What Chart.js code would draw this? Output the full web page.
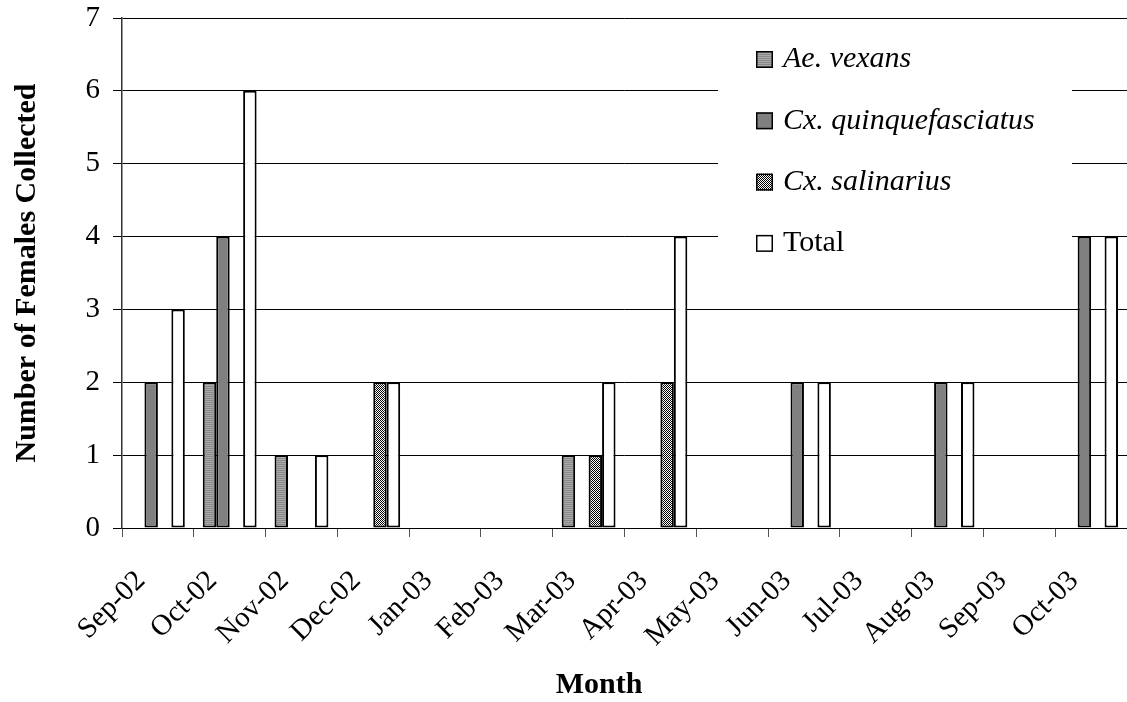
<!DOCTYPE html>
<html><head><meta charset="utf-8">
<script src="https://cdn.jsdelivr.net/npm/chart.js@4.4.0/dist/chart.umd.min.js"></script>
<style>html,body{margin:0;padding:0;background:#fff;overflow:hidden}canvas{display:block}</style>
</head><body>
<canvas id="c" width="1127" height="702"></canvas>
<script>
const categories = ['Sep-02','Oct-02','Nov-02','Dec-02','Jan-03','Feb-03','Mar-03','Apr-03','May-03','Jun-03','Jul-03','Aug-03','Sep-03','Oct-03'];
const aeVexans           = [0,2,1,0,0,0,1,0,0,0,0,0,0,0];
const cxQuinquefasciatus = [2,4,0,0,0,0,0,0,0,2,0,2,0,4];
const cxSalinarius       = [0,0,0,2,0,0,1,2,0,0,0,0,0,0];
const total              = [3,6,1,2,0,0,2,4,0,2,0,2,0,4];
const seriesNames = ['Ae. vexans','Cx. quinquefasciatus','Cx. salinarius','Total'];
const seriesItalic = [true, true, true, false];
const yTicks = [0,1,2,3,4,5,6,7];
const xTitle = 'Month';
const yTitle = 'Number of Females Collected';

const FONT = '"Liberation Serif", "Times New Roman", serif';
Chart.defaults.font.family = FONT;
Chart.defaults.color = '#000';

const mainCtx = document.getElementById('c').getContext('2d');
function makePattern(draw, w, h) {
  const c = document.createElement('canvas'); c.width = w; c.height = h;
  const g = c.getContext('2d'); draw(g);
  return mainCtx.createPattern(c, 'repeat');
}
const stripeFill = makePattern(g => {
  g.fillStyle = '#8a8a8a'; g.fillRect(0,0,1,1);
  g.fillStyle = '#a8a8a8'; g.fillRect(0,1,1,1);
}, 1, 2);
const solidFill = '#808080';
const checkerFill = makePattern(g => {
  g.fillStyle = '#fff'; g.fillRect(0,0,2,2);
  g.fillStyle = '#000'; g.fillRect(0,0,1,1); g.fillRect(1,1,1,1);
}, 2, 2);
const whiteFill = '#ffffff';
const fills = [stripeFill, solidFill, checkerFill, whiteFill];
const seriesData = [aeVexans, cxQuinquefasciatus, cxSalinarius, total];

const legendPlugin = {
  id: 'boxLegend',
  afterDatasetsDraw(chart) {
    const ctx = chart.ctx;
    ctx.save();
    ctx.fillStyle = '#fff';
    ctx.fillRect(718, 24, 354, 250);
    chart.data.datasets.forEach((ds, i) => {
      const cy = 59.5 + i * 61.3;
      ctx.fillStyle = ds.backgroundColor;
      ctx.fillRect(756, cy - 8.5, 17, 17);
      ctx.strokeStyle = '#000'; ctx.lineWidth = 1.5;
      ctx.strokeRect(756.75, cy - 7.75, 15.5, 15.5);
      ctx.font = (seriesItalic[i] ? 'italic ' : '') + '30px ' + FONT;
      ctx.fillStyle = '#000'; ctx.textBaseline = 'middle'; ctx.textAlign = 'left';
      ctx.fillText(ds.label, 783, cy);
    });
    ctx.restore();
  },
  afterDraw(chart) {
    const ctx = chart.ctx;
    ctx.save();
    ctx.font = 'bold 30px ' + FONT;
    ctx.fillStyle = '#000'; ctx.textAlign = 'center'; ctx.textBaseline = 'middle';
    ctx.fillText(xTitle, 599, 685);
    ctx.restore();
  }
};

new Chart(mainCtx, {
  type: 'bar',
  data: {
    labels: categories,
    datasets: seriesNames.map((name, i) => ({
      label: name,
      data: seriesData[i],
      backgroundColor: fills[i],
      borderColor: '#000',
      borderWidth: 2,
      borderSkipped: false,
      categoryPercentage: 0.75,
      barPercentage: 1.0
    }))
  },
  options: {
    responsive: false,
    animation: false,
    events: [],
    layout: { padding: { top: 18, left: 0, right: 0, bottom: 0 } },
    plugins: { legend: { display: false }, tooltip: { enabled: false } },
    scales: {
      x: {
        offset: true,
        grid: { offset: true, drawOnChartArea: false, drawTicks: true, tickLength: 9, color: '#555', lineWidth: 1 },
        border: { display: true, color: '#000', width: 1 },
        ticks: { autoSkip: false, maxRotation: 45, minRotation: 45, labelOffset: -17, padding: 27, color: '#000', font: { size: 29 } },
        afterFit(s) { s.height = 174; s.paddingLeft = 0; s.paddingRight = 0; }
      },
      y: {
        min: 0, max: 7,
        afterBuildTicks(s) { s.ticks = yTicks.map(v => ({ value: v })); },
        ticks: { padding: 13, color: '#000', font: { size: 29 } },
        grid: { color: '#000', lineWidth: 1, tickLength: 9, drawTicks: true },
        border: { display: true, color: '#333', width: 1.5 },
        title: { display: true, text: yTitle, color: '#000', font: { size: 30, weight: 'bold' }, padding: { top: 9, bottom: 0 } },
        afterFit(s) { s.width = 122; s.paddingTop = 0; s.paddingBottom = 0; }
      }
    }
  },
  plugins: [legendPlugin]
});
</script>
</body></html>
